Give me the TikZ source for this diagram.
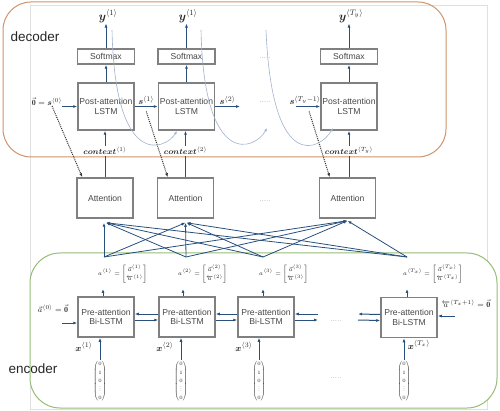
\documentclass[tikz,border=0pt]{standalone}
\usepackage{amsmath}
\usepackage{amssymb}
\usepackage{fontspec}
\setsansfont{Liberation Sans}
\usetikzlibrary{arrows.meta,positioning,calc}
\definecolor{decoderedge}{RGB}{206,148,106}
\definecolor{encoderedge}{RGB}{150,188,120}
\definecolor{flowblue}{RGB}{40,80,126}
\definecolor{feedblue}{RGB}{160,178,205}
\definecolor{cellgray}{RGB}{128,128,128}
\definecolor{celltext}{RGB}{72,72,72}
\newcommand{\tinyvdots}{\vbox{\baselineskip1.6pt\lineskiplimit0pt\kern0.5pt\hbox{.}\hbox{.}\hbox{.}}}

\begin{document}
\begin{tikzpicture}[
  x=1pt,y=-1pt,
  font=\sffamily\fontsize{8.6}{9.6}\selectfont,
  >=Latex,
  arrow/.style={-{Latex[length=4pt,width=3pt]},line width=1pt,draw=flowblue},
  link/.style={-{Latex[length=4pt,width=3pt]},line width=0.8pt,draw=flowblue},
  attend/.style={-{Latex[length=4pt,width=3pt]},line width=1pt,draw=black!80,densely dotted},
  feed/.style={-{Latex[length=3.5pt,width=2.6pt]},line width=0.6pt,draw=feedblue},
  cellbox/.style={draw=cellgray,line width=1.5pt,fill=white,align=center,
    inner sep=1pt,text=celltext},
  postbox/.style={cellbox,minimum width=56pt,minimum height=47pt},
  softbox/.style={cellbox,minimum width=57pt,minimum height=15pt},
  attbox/.style={cellbox,minimum width=56pt,minimum height=40pt},
  prebox/.style={cellbox,minimum width=56pt,minimum height=40pt},
  mlabel/.style={inner sep=1pt,text=black!85,font=\fontsize{9.5}{11}\selectfont},
  blabel/.style={inner sep=0pt,text=black!85,font=\fontsize{8}{9}\selectfont},
  ylabel/.style={inner sep=1pt,text=black!85,font=\fontsize{11.5}{12}\selectfont},
  ctxlabel/.style={inner sep=1pt,text=black!85,font=\fontsize{8}{9}\selectfont},
  alabel/.style={inner sep=0pt,text=black!85,font=\fontsize{6}{7.5}\selectfont,anchor=west},
  onehot/.style={inner sep=0pt,text=black!85,font=\fontsize{4.8}{8.4}\selectfont},
  dots/.style={text=black!50,font=\fontsize{7}{8}\selectfont},
  part/.style={text=black!85,font=\sffamily\fontsize{13.5}{15}\selectfont}
]
\useasboundingbox (0,0) rectangle (500,411);

% Frames: page edge, decoder and encoder groups.
\draw[black!12,line width=0.6pt] (30,5) rectangle (487,409);
\draw[decoderedge,line width=1pt,rounded corners=28pt] (3,2) rectangle (446,157);
\draw[encoderedge,line width=1pt,fill=white,rounded corners=30pt] (30,253) rectangle (497,408);
\node[part] (declabel) at (35,37) {decoder};
\node[part] (enclabel) at (33,369) {encoder};

% Decoder: post-attention LSTM steps with softmax outputs.
\node[postbox] (post1) at (106,106.5) {Post-attention\\LSTM};
\node[postbox] (post2) at (186.5,106.5) {Post-attention\\LSTM};
\node[postbox] (post3) at (349,106.5) {Post-attention\\LSTM};
\node[softbox] (soft1) at (106,56.5) {Softmax};
\node[softbox] (soft2) at (186.5,56.5) {Softmax};
\node[softbox] (soft3) at (349,56.5) {Softmax};
\node[ylabel] (y1) at (108,16) {$\boldsymbol{y}^{\langle 1\rangle}$};
\node[ylabel] (y2) at (188,16) {$\boldsymbol{y}^{\langle 1\rangle}$};
\node[ylabel] (y3) at (351,16) {$\boldsymbol{y}^{\langle T_y\rangle}$};
\draw[arrow] (post1) -- (soft1);
\draw[arrow] (post2) -- (soft2);
\draw[arrow] (post3) -- (soft3);
\draw[arrow] (soft1) -- (soft1.north |- y1.south);
\draw[arrow] (soft2) -- (soft2.north |- y2.south);
\draw[arrow] (soft3) -- (soft3.north |- y3.south);
\node[dots] (sdots) at (265,58) {.....};
\node[dots] (pdots) at (265,102) {.....};

% Hidden state s passed along the decoder.
\node[blabel] (s0) at (47,102) {$\vec{\mathbf{0}}=\boldsymbol{s}^{\langle 0\rangle}$};
\coordinate (s2end) at (240,106.5);
\coordinate (sTstart) at (296,106.5);
\draw[arrow] (s0.east |- post1.west) -- (post1.west);
\draw[arrow] (post1) -- node[mlabel,above=0pt] (s1) {$\boldsymbol{s}^{\langle 1\rangle}$} (post2);
\draw[arrow] (post2) -- node[mlabel,above=0pt] (s2) {$\boldsymbol{s}^{\langle 2\rangle}$} (s2end);
\draw[arrow] (sTstart) -- node[mlabel,above=0pt,xshift=-3pt] (sT) {$\boldsymbol{s}^{\langle T_y-1\rangle}$} (post3);

% Attention blocks and context vectors.
\node[attbox] (att1) at (105,198) {Attention};
\node[attbox] (att2) at (185.5,198) {Attention};
\node[attbox] (att3) at (347.5,198) {Attention};
\node[dots] (adots) at (265,201) {.....};
\node[ctxlabel] (ctx1) at (105,151) {$\boldsymbol{context}^{\langle 1\rangle}$};
\node[ctxlabel] (ctx2) at (185.5,151) {$\boldsymbol{context}^{\langle 2\rangle}$};
\node[ctxlabel] (ctx3) at (349,151) {$\boldsymbol{context}^{\langle T_y\rangle}$};
\draw[line width=1pt,flowblue] (att1.north -| ctx1) -- (ctx1);
\draw[line width=1pt,flowblue] (att2.north -| ctx2) -- (ctx2);
\draw[line width=1pt,flowblue] (att3.north -| ctx3) -- (ctx3);
\draw[arrow] (ctx1) -- (ctx1 |- post1.south);
\draw[arrow] (ctx2) -- (ctx2 |- post2.south);
\draw[arrow] (ctx3) -- (ctx3 |- post3.south);
\draw[attend] ([xshift=5pt]s0.south) -- ([xshift=6pt]att1.north west);
\draw[attend] ([yshift=-5pt]s1.south) -- ([xshift=11pt]att2.north west);
\draw[attend] ([xshift=4pt,yshift=-5pt]sT.south) -- ([xshift=11pt]att3.north west);

% Previous output fed to the next decoder step.
\coordinate (fb1s) at (112,30);
\coordinate (fb1e) at (177,131);
\coordinate (fb2s) at (201,30);
\coordinate (fb2e) at (267,128);
\coordinate (fb3s) at (266,30);
\coordinate (fb3e) at (333,128);
\draw[feed] (fb1s) .. controls (115,170) and (165,150) .. (fb1e);
\draw[feed] (fb2s) .. controls (204,170) and (255,150) .. (fb2e);
\draw[feed] (fb3s) .. controls (272,175) and (320,150) .. (fb3e);

% Encoder: pre-attention Bi-LSTM steps.
\node[prebox] (pre1) at (106,317) {Pre-attention\\Bi-LSTM};
\node[prebox] (pre2) at (187,317) {Pre-attention\\Bi-LSTM};
\node[prebox] (pre3) at (266,317) {Pre-attention\\Bi-LSTM};
\node[prebox] (pre4) at (409,317.5) {Pre-attention\\Bi-LSTM};
\coordinate (e3) at (318,317);
\coordinate (e4) at (358,317);
\node[dots] (edots) at (336,321) {.....};
\draw[arrow] ([yshift=3pt]pre2.west) -- ([yshift=3pt]pre1.east);
\draw[arrow] ([yshift=-3pt]pre1.east) -- ([yshift=-3pt]pre2.west);
\draw[arrow] ([yshift=3pt]pre3.west) -- ([yshift=3pt]pre2.east);
\draw[arrow] ([yshift=-3pt]pre2.east) -- ([yshift=-3pt]pre3.west);
\draw[arrow] ([yshift=3pt]e3) -- ([yshift=3pt]pre3.east);
\draw[arrow] ([yshift=-3pt]pre3.east) -- ([yshift=-3pt]e3);
\draw[arrow] ([yshift=3pt]pre4.west) -- ([yshift=3pt]e4);
\draw[arrow] ([yshift=-3pt]e4) -- ([yshift=-3pt]pre4.west);

% Boundary states.
\node[blabel] (a0) at (53,309) {$\vec{a}^{\langle 0\rangle}=\vec{\mathbf{0}}$};
\coordinate (a0in) at (62,323);
\draw[arrow] (a0in) -- (a0in -| pre1.west);
\node[blabel] (aT) at (466,304) {$\overleftarrow{a}^{\langle T_x+1\rangle}=\vec{\mathbf{0}}$};
\coordinate (aTin) at (455,316);
\draw[arrow] (aTin) -- (aTin -| pre4.east);

% Concatenated activations.
\node[alabel] (a1) at (98,274) {$\renewcommand{\arraystretch}{1.3}a^{\langle 1\rangle}=\begin{bmatrix}\vec{a}^{\langle 1\rangle}\\ \overleftarrow{a}^{\langle 1\rangle}\end{bmatrix}$};
\node[alabel] (a2) at (178,274) {$\renewcommand{\arraystretch}{1.3}a^{\langle 2\rangle}=\begin{bmatrix}\vec{a}^{\langle 2\rangle}\\ \overleftarrow{a}^{\langle 2\rangle}\end{bmatrix}$};
\node[alabel] (a3) at (259,274) {$\renewcommand{\arraystretch}{1.3}a^{\langle 3\rangle}=\begin{bmatrix}\vec{a}^{\langle 3\rangle}\\ \overleftarrow{a}^{\langle 3\rangle}\end{bmatrix}$};
\node[alabel] (a4) at (403,274) {$\renewcommand{\arraystretch}{1.3}a^{\langle T_x\rangle}=\begin{bmatrix}\vec{a}^{\langle T_x\rangle}\\ \overleftarrow{a}^{\langle T_x\rangle}\end{bmatrix}$};
\draw[arrow,shorten >=5pt] ([xshift=-3pt]pre1.north) -- ([xshift=-3pt]pre1.north |- a1.south);
\draw[arrow,shorten >=5pt] ([xshift=-4pt]pre2.north) -- ([xshift=-4pt]pre2.north |- a2.south);
\draw[arrow,shorten >=5pt] ([xshift=-3pt]pre3.north) -- ([xshift=-3pt]pre3.north |- a3.south);
\draw[arrow,shorten >=5pt] ([xshift=-2pt]pre4.north) -- ([xshift=-2pt]pre4.north |- a4.south);

% Every activation goes to every attention block.
\coordinate (h1) at (104,257);
\coordinate (h2) at (186,257);
\coordinate (h3) at (263,257);
\coordinate (h4) at (407,257);
\draw[link] (h1) -- ([xshift=-1pt,yshift=-4pt]att1.south);
\draw[link] (h1) -- ([yshift=-4pt]att2.south);
\draw[link] (h1) -- ([yshift=-2pt]att3.south);
\draw[link] (h2) -- ([xshift=1pt,yshift=-4pt]att1.south);
\draw[link] (h2) -- ([yshift=-4pt]att2.south);
\draw[link] (h2) -- ([yshift=-2pt]att3.south);
\draw[link] (h3) -- ([xshift=1pt,yshift=-4pt]att1.south);
\draw[link] (h3) -- ([xshift=1pt,yshift=-4pt]att2.south);
\draw[link] (h3) -- ([yshift=-2pt]att3.south);
\draw[link] (h4) -- ([xshift=1pt,yshift=-4pt]att1.south);
\draw[link] (h4) -- ([xshift=1pt,yshift=-4pt]att2.south);
\draw[link] (h4) -- ([yshift=-2pt]att3.south);

% One-hot inputs.
\node[onehot] (v1) at (100,381) {$\begin{pmatrix}0\\1\\0\\\tinyvdots\\0\end{pmatrix}$};
\node[onehot] (v2) at (181,381) {$\begin{pmatrix}0\\1\\0\\\tinyvdots\\0\end{pmatrix}$};
\node[onehot] (v3) at (259,381) {$\begin{pmatrix}0\\1\\0\\\tinyvdots\\0\end{pmatrix}$};
\node[onehot] (v4) at (404,381) {$\begin{pmatrix}0\\1\\0\\\tinyvdots\\0\end{pmatrix}$};
\node[dots] (vdots) at (336,378) {.....};
\draw[arrow] (v1) -- (v1.north |- pre1.south);
\draw[arrow] (v2) -- (v2.north |- pre2.south);
\draw[arrow] (v3) -- (v3.north |- pre3.south);
\draw[arrow] (v4) -- (v4.north |- pre4.south);
\node[mlabel] (x1) at (84,347) {$\boldsymbol{x}^{\langle 1\rangle}$};
\node[mlabel] (x2) at (165,347) {$\boldsymbol{x}^{\langle 2\rangle}$};
\node[mlabel] (x3) at (244,347) {$\boldsymbol{x}^{\langle 3\rangle}$};
\node[mlabel] (x4) at (419,345) {$\boldsymbol{x}^{\langle T_x\rangle}$};
\end{tikzpicture}
\end{document}
